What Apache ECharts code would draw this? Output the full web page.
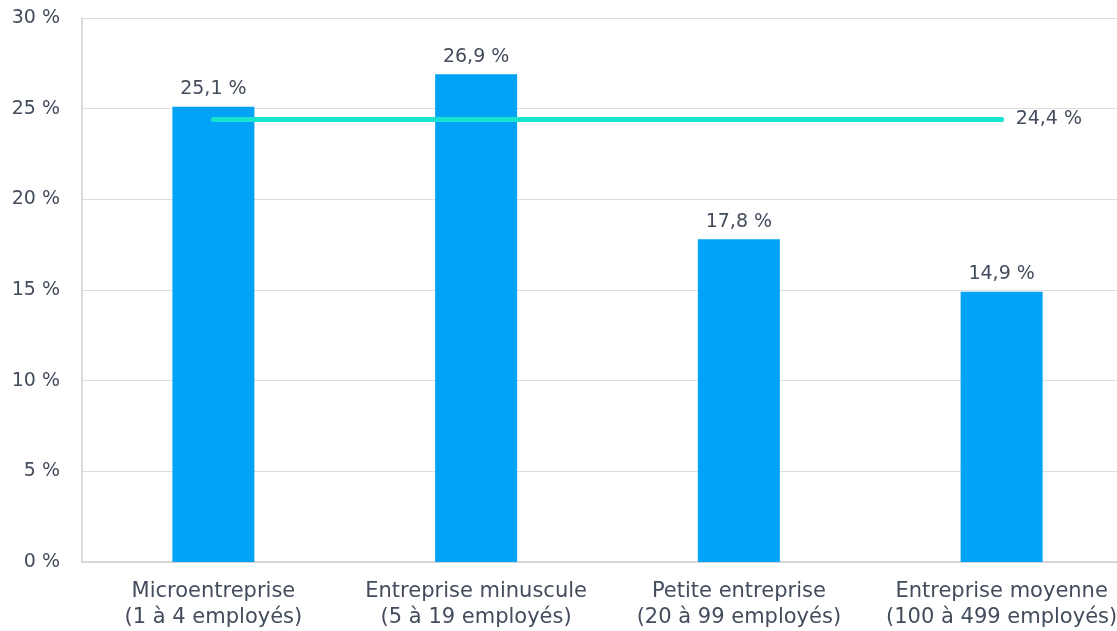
<!DOCTYPE html>
<html>
<head>
<meta charset="utf-8">
<script src="https://cdn.jsdelivr.net/npm/echarts@6/dist/echarts.min.js"></script>
<style>
  html, body { margin: 0; padding: 0; background: #fff; overflow: hidden; }
  #wrap { width: 1117px; height: 631px; overflow: hidden; }
  #chart { width: 1133px; height: 631px; }
</style>
</head>
<body>
<div id="wrap"><div id="chart"></div></div>
<script>
// Company size categories
const categories = [
  'Microentreprise\n(1 à 4 employés)',
  'Entreprise minuscule\n(5 à 19 employés)',
  'Petite entreprise\n(20 à 99 employés)',
  'Entreprise moyenne\n(100 à 499 employés)'
];
// Share per company size (%)
const shares = [25.1, 26.9, 17.8, 14.9];
// Overall average (%)
const average = 24.4;
const averageLine = categories.map(() => average);

const textColor = '#434c5c';
const fontFamily = '"DejaVu Sans", sans-serif';
const fmt = v => String(v).replace('.', ',') + ' %';

const chart = echarts.init(document.getElementById('chart'));
chart.setOption({
  animation: false,
  textStyle: { fontFamily: fontFamily },
  grid: { left: 82, right: 0, top: 18, bottom: 69, containLabel: false },
  xAxis: {
    type: 'category',
    data: categories,
    boundaryGap: true,
    axisLine: { show: true, lineStyle: { color: '#d0d0d0', width: 1.5 } },
    axisTick: { show: false },
    axisLabel: { color: textColor, fontSize: 21, lineHeight: 26, margin: 17, interval: 0, fontFamily: fontFamily }
  },
  yAxis: {
    type: 'value',
    min: 0,
    max: 30,
    interval: 5,
    axisLine: { show: true, lineStyle: { color: '#d0d0d0', width: 1.5 } },
    axisTick: { show: false },
    splitLine: { lineStyle: { color: '#dedede', width: 1.2 } },
    axisLabel: { color: textColor, fontSize: 19, margin: 22, formatter: v => v + ' %', fontFamily: fontFamily }
  },
  series: [
    {
      type: 'bar',
      data: shares,
      barWidth: 82,
      itemStyle: { color: '#02a3f7' },
      label: { show: true, position: 'top', distance: 8, color: textColor, fontSize: 19, formatter: p => fmt(p.value), fontFamily: fontFamily }
    },
    {
      type: 'line',
      data: averageLine,
      symbol: 'none',
      lineStyle: { color: '#18e3cf', width: 5, cap: 'round' },
      endLabel: { show: true, distance: 14, color: textColor, fontSize: 19, formatter: p => fmt(p.value), fontFamily: fontFamily },
      z: 5
    }
  ]
});
</script>
</body>
</html>
